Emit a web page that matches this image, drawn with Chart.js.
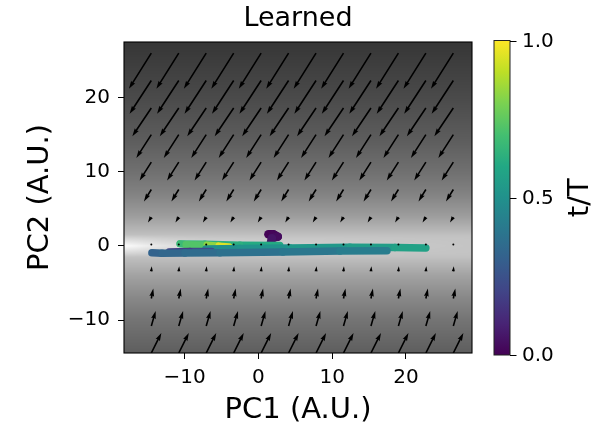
<!DOCTYPE html>
<html>
<head>
<meta charset="utf-8">
<script src="https://cdn.jsdelivr.net/npm/chart.js@4.4.1/dist/chart.umd.min.js"></script>
<style>
  html, body { margin: 0; padding: 0; background: #fff; }
  #wrap { width: 598px; height: 428px; }
</style>
</head>
<body>
<div id="wrap"><canvas id="chart" width="598" height="428"></canvas></div>
<script>
// axis limits and ticks
const xLimits = [-18.2, 28.95];
const yLimits = [-14.45, 27.5];
const xTicks = [-10, 0, 10, 20];
const yTicks = [-10, 0, 10, 20];
const cbTicks = [0.0, 0.5, 1.0];

// learned flow field, one vector per grid row
const gridX = [-14.5, -10.78, -7.06, -3.34, 0.38, 4.1, 7.82, 11.54, 15.26, 18.98, 22.7, 26.42];
const gridY = [26.0, 22.3, 18.6, 15.0, 11.3, 7.6, 3.9, 0.2, -3.45, -7.1, -10.8, -14.45];
const rowU = [-3.03, -2.94, -2.57, -2.03, -1.58, -1.0, -0.45, -0.02, 0.06, 0.27, 0.59, 1.36];
const rowV = [-4.81, -4.49, -3.82, -3.14, -2.47, -1.6, -0.75, -0.04, 0.7, 1.35, 2.02, 2.7];

// flow speed shown as grey shading (255 = still)
const shadeY = [-14.45, -10, -7, -4, -2, -1, 0, 1, 2, 4, 7, 10, 14, 20, 27.5];
const shadeGrey = [94, 116, 136, 162, 186, 200, 210, 200, 184, 157, 130, 112, 94, 74, 54];
const stillX = [-18.2, -16, -13, -8, 0, 10, 20, 29];
const stillGrey = [252, 242, 228, 216, 210, 205, 200, 196];

// trajectories in PC space, coloured by t/T
const runAX = [-14.42, -13.06, -9.95, -5.2, 3.33, 11.06, 17.43];
const runAY = [-0.94, -1.0, -0.97, -0.92, -0.82, -0.69, -0.65];
const runAT = [0.31, 0.32, 0.34, 0.36, 0.38, 0.41, 0.43];

const runBX = [-6.29, -9.27, -12.11];
const runBY = [-0.67, -0.67, -0.71];
const runBT = [0.25, 0.2, 0.15];

const runCX = [-7.1, -2.49, 4.28, 12.41, 18.51, 22.7];
const runCY = [-0.42, -0.35, -0.27, -0.19, -0.22, -0.27];
const runCT = [0.48, 0.5, 0.52, 0.54, 0.56, 0.58];

const runDX = [2.93, -2.49, -7.24, -10.62, -9.81, -6.96, -5.34, -3.98];
const runDY = [0.08, 0.13, 0.24, 0.27, 0.19, 0.12, 0.0, -0.13];
const runDT = [0.6, 0.62, 0.64, 0.66, 0.69, 0.76, 0.9, 1.0];

const runEX = [1.36, 2.03, 2.64, 1.84, 1.71];
const runEY = [1.58, 1.58, 1.24, 1.04, 0.43];
const runET = [0.0, 0.01, 0.02, 0.04, 0.07];

const FONT = 'DejaVu Sans';

const VIRIDIS = [
  [68, 1, 84], [72, 36, 117], [65, 68, 135], [53, 95, 141], [42, 120, 142],
  [33, 145, 140], [34, 168, 132], [68, 191, 112], [122, 209, 81], [189, 223, 38], [253, 231, 37]
];

const viridis = (t) => {
  const v = Math.min(1, Math.max(0, t)) * (VIRIDIS.length - 1);
  const i = Math.min(VIRIDIS.length - 2, Math.floor(v));
  const f = v - i;
  const c = VIRIDIS[i].map((a, k) => Math.round(a + (VIRIDIS[i + 1][k] - a) * f));
  return `rgb(${c[0]}, ${c[1]}, ${c[2]})`;
};

// linear interpolation on ascending xs
const interp = (xs, ys, x) => {
  if (x <= xs[0]) return ys[0];
  if (x >= xs[xs.length - 1]) return ys[ys.length - 1];
  let i = 0;
  while (xs[i + 1] < x) i++;
  const f = (x - xs[i]) / (xs[i + 1] - xs[i]);
  return ys[i] + (ys[i + 1] - ys[i]) * f;
};

const makeRun = (xs, ys, ts, width) => ({
  data: xs.map((x, i) => ({ x: x, y: ys[i] })),
  showLine: true,
  borderWidth: width,
  borderColor: viridis(ts[0]),
  borderCapStyle: 'round',
  borderJoinStyle: 'round',
  pointRadius: 0,
  pointHoverRadius: 0,
  segment: {
    borderColor: (c) => viridis((ts[c.p0DataIndex] + ts[c.p1DataIndex]) / 2),
  },
});

const backgroundShade = {
  id: 'backgroundShade',
  beforeDraw(chart) {
    const { ctx, chartArea: a, scales } = chart;
    const x0 = Math.round(a.left), y0 = Math.round(a.top);
    const w = Math.round(a.right) - x0, h = Math.round(a.bottom) - y0;
    const img = ctx.createImageData(w, h);
    const zero = interp(shadeY, shadeGrey, 0);
    for (let j = 0; j < h; j++) {
      const yv = scales.y.getValueForPixel(y0 + j + 0.5);
      const base = interp(shadeY, shadeGrey, yv);
      const bump = Math.max(0, 1 - Math.abs(yv) / 1.5);
      for (let i = 0; i < w; i++) {
        const xv = scales.x.getValueForPixel(x0 + i + 0.5);
        const g = base + bump * (interp(stillX, stillGrey, xv) - zero);
        const p = (j * w + i) * 4;
        img.data[p] = img.data[p + 1] = img.data[p + 2] = Math.round(g);
        img.data[p + 3] = 255;
      }
    }
    ctx.putImageData(img, x0, y0);
  },
};

const ARROW_W = 1.6;

const drawArrow = (ctx, xa, ya, xb, yb) => {
  const dx = xb - xa, dy = yb - ya;
  const len = Math.hypot(dx, dy);
  const w = ARROW_W;
  if (len < w) {
    ctx.beginPath();
    ctx.arc(xa, ya, 1.0, 0, Math.PI * 2);
    ctx.fill();
    return;
  }
  const hl = 5 * w, hal = 4.5 * w, hw = 1.5 * w;
  let s = 1, L = len;
  if (len < hl) { s = len / hl; L = hl; }
  const pts = [[0, -w / 2], [L - hal, -w / 2], [L - hl, -hw], [L, 0], [L - hl, hw], [L - hal, w / 2], [0, w / 2]];
  ctx.save();
  ctx.translate(xa, ya);
  ctx.rotate(Math.atan2(dy, dx));
  ctx.scale(s, s);
  ctx.beginPath();
  pts.forEach(([px, py], k) => (k ? ctx.lineTo(px, py) : ctx.moveTo(px, py)));
  ctx.closePath();
  ctx.fill();
  ctx.restore();
};

const quiver = {
  id: 'quiver',
  afterDatasetsDraw(chart) {
    const { ctx, chartArea: a, scales } = chart;
    ctx.save();
    ctx.beginPath();
    ctx.rect(a.left, a.top, a.right - a.left, a.bottom - a.top);
    ctx.clip();
    ctx.fillStyle = '#000';
    gridY.forEach((gy, r) => {
      gridX.forEach((gx) => {
        drawArrow(ctx,
          scales.x.getPixelForValue(gx), scales.y.getPixelForValue(gy),
          scales.x.getPixelForValue(gx + rowU[r]), scales.y.getPixelForValue(gy + rowV[r]));
      });
    });
    ctx.restore();
  },
};

const frameAndColorbar = {
  id: 'frameAndColorbar',
  afterDraw(chart) {
    const { ctx, chartArea: a } = chart;
    ctx.save();
    ctx.strokeStyle = '#000';
    ctx.lineWidth = 1.1;
    ctx.strokeRect(a.left, a.top, a.right - a.left, a.bottom - a.top);

    // title over the axes
    ctx.fillStyle = '#000';
    ctx.font = `27px "${FONT}"`;
    ctx.textAlign = 'center';
    ctx.textBaseline = 'middle';
    ctx.fillText('Learned', (a.left + a.right) / 2, 18.5);

    // colour bar
    const left = a.right + 22, right = left + 16;
    const top = a.top - 1.5, bottom = a.bottom + 2;
    const grad = ctx.createLinearGradient(0, bottom, 0, top);
    VIRIDIS.forEach((c, i) => grad.addColorStop(i / (VIRIDIS.length - 1), `rgb(${c[0]}, ${c[1]}, ${c[2]})`));
    ctx.fillStyle = grad;
    ctx.fillRect(left, top, right - left, bottom - top);
    ctx.strokeStyle = '#222';
    ctx.lineWidth = 1;
    ctx.strokeRect(left, top, right - left, bottom - top);

    ctx.fillStyle = '#000';
    ctx.strokeStyle = '#000';
    ctx.font = `20px "${FONT}"`;
    ctx.textAlign = 'left';
    cbTicks.forEach((t) => {
      const y = Math.round(bottom - t * (bottom - top)) + 0.5;
      ctx.beginPath();
      ctx.moveTo(right, y);
      ctx.lineTo(right + 6.5, y);
      ctx.stroke();
      ctx.fillText(t.toFixed(1), right + 12, y);
    });

    ctx.font = `29px "${FONT}"`;
    ctx.textAlign = 'center';
    ctx.translate(580, (top + bottom) / 2);
    ctx.rotate(-Math.PI / 2);
    ctx.fillText('t/T', 0, 0);
    ctx.restore();
  },
};

const minus = (v) => String(v).replace('-', '\u2212');

new Chart(document.getElementById('chart'), {
  type: 'scatter',
  data: {
    datasets: [
      makeRun(runAX, runAY, runAT, 7.5),
      makeRun(runBX, runBY, runBT, 6),
      makeRun(runCX, runCY, runCT, 7.5),
      makeRun(runDX, runDY, runDT, 7),
      makeRun(runEX, runEY, runET, 8.5),
    ],
  },
  options: {
    responsive: false,
    animation: false,
    devicePixelRatio: 1,
    layout: { padding: { left: 0, right: 126, top: 42, bottom: 0 } },
    plugins: {
      legend: { display: false },
      tooltip: { enabled: false },
      title: { display: false },
    },
    scales: {
      x: {
        type: 'linear',
        min: xLimits[0],
        max: xLimits[1],
        afterBuildTicks: (s) => { s.ticks = xTicks.map((v) => ({ value: v })); },
        afterFit: (s) => { s.height = 75; },
        border: { display: false },
        grid: { drawOnChartArea: false, drawTicks: true, tickLength: 6, color: '#000', lineWidth: 1 },
        ticks: {
          color: '#000',
          padding: 7,
          maxRotation: 0,
          font: { family: FONT, size: 20 },
          callback: (v) => minus(v),
        },
        title: {
          display: true,
          text: 'PC1 (A.U.)',
          color: '#000',
          font: { family: FONT, size: 29, lineHeight: 1 },
          padding: { top: 0, bottom: 3.5 },
        },
      },
      y: {
        type: 'linear',
        min: yLimits[0],
        max: yLimits[1],
        afterBuildTicks: (s) => { s.ticks = yTicks.map((v) => ({ value: v })); },
        afterFit: (s) => { s.width = 124; },
        border: { display: false },
        grid: { drawOnChartArea: false, drawTicks: true, tickLength: 6, color: '#000', lineWidth: 1 },
        ticks: {
          color: '#000',
          padding: 8,
          font: { family: FONT, size: 20 },
          callback: (v) => minus(v),
        },
        title: {
          display: true,
          text: 'PC2 (A.U.)',
          color: '#000',
          font: { family: FONT, size: 29, lineHeight: 1 },
          padding: { top: 25.5, bottom: 0 },
        },
      },
    },
  },
  plugins: [backgroundShade, quiver, frameAndColorbar],
});
</script>
</body>
</html>
